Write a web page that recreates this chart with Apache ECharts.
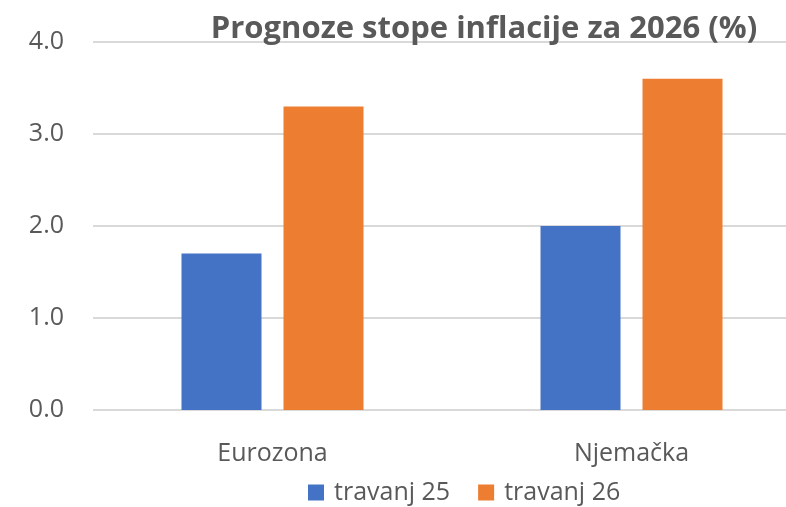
<!DOCTYPE html>
<html>
<head>
<meta charset="utf-8">
<script src="https://cdn.jsdelivr.net/npm/echarts@6/dist/echarts.min.js"></script>
<style>
  html, body { margin: 0; padding: 0; background: #fff; }
  #myChart { width: 786px; height: 507px; }
</style>
</head>
<body>
<div id="myChart"></div>
<script>
// podaci
var categories = ["Eurozona", "Njemačka"];
var travanj25 = [1.7, 2.0];
var travanj26 = [3.3, 3.6];
var seriesNames = ["travanj 25", "travanj 26"];

var myChart = echarts.init(document.getElementById("myChart"));
var font = "'Open Sans', 'Noto Sans', sans-serif";
var option = {
  animation: false,
  title: {
    text: "Prognoze stope inflacije za 2026 (%)",
    left: 479,
    textAlign: "center",
    top: 9,
    textStyle: { fontFamily: font, fontSize: 31, fontWeight: "bold", color: "#595959" }
  },
  legend: {
    data: seriesNames,
    bottom: -3,
    left: 303,
    itemWidth: 16,
    itemHeight: 16,
    itemGap: 28,
    icon: "rect",
    textStyle: { fontFamily: font, fontSize: 25, color: "#595959", padding: [0, 0, 0, 5] }
  },
  grid: {
    left: 93, top: 42, bottom: 97, width: 718,
    containLabel: false,
    outerBoundsMode: "none"
  },
  xAxis: {
    type: "category",
    data: categories,
    axisLine: { show: false },
    axisTick: { show: false },
    axisLabel: { fontFamily: font, fontSize: 25, color: "#595959", margin: 31 }
  },
  yAxis: {
    type: "value",
    min: 0,
    max: 4,
    interval: 1,
    axisLabel: {
      fontFamily: font, fontSize: 25, color: "#595959", margin: 29,
      formatter: function (v) { return v.toFixed(1); }
    },
    splitLine: { lineStyle: { color: "#D9D9D9", width: 2 } }
  },
  series: [
    {
      name: seriesNames[0],
      type: "bar",
      data: travanj25,
      barWidth: 80,
      barGap: "27.5%",
      itemStyle: { color: "#4472C4" }
    },
    {
      name: seriesNames[1],
      type: "bar",
      data: travanj26,
      barWidth: 80,
      itemStyle: { color: "#ED7D31" }
    }
  ]
};
myChart.setOption(option);
</script>
</body>
</html>
